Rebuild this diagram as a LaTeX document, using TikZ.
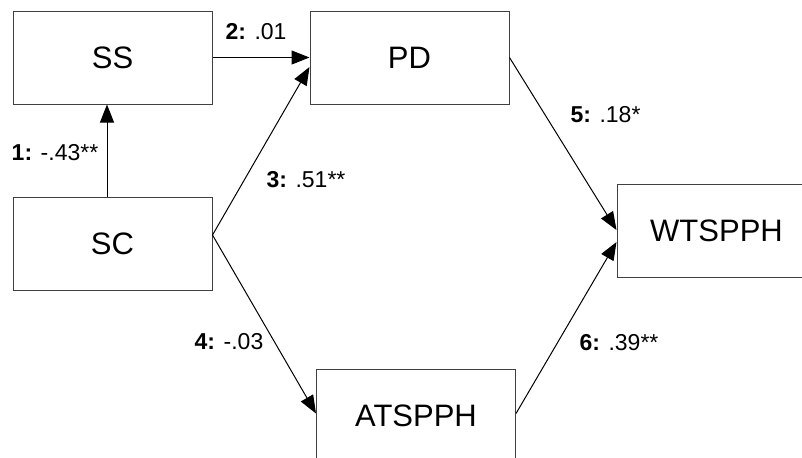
\documentclass[tikz,border=0pt]{standalone}
\usepackage{fontspec}
\setmainfont{Liberation Sans}
\usetikzlibrary{arrows.meta}

\begin{document}
\begin{tikzpicture}[x=0.5pt, y=-0.5pt,
  box/.style={draw=black!75, line width=0.5pt, minimum width=99.5pt, minimum height=46.5pt, inner sep=0pt, font=\fontsize{15.5}{18}\selectfont},
  link/.style={line width=0.5pt, -{Triangle[length=9pt,width=7pt]}},
  lbl/.style={font=\fontsize{11.5}{14}\selectfont, inner sep=0pt}]

\useasboundingbox (0,0) rectangle (802,457);

% variables
\node[box] (SS) at (112.5,57.5) {SS};
\node[box] (PD) at (409.5,57.5) {PD};
\node[box] (SC) at (112.5,244) {SC};
\node[box] (WTSPPH) at (716.5,231) {WTSPPH};
\node[box] (ATSPPH) at (416,415.5) {ATSPPH};

% paths
\coordinate (SCout) at ([yshift=4.5pt]SC.east);
\draw[link] ([xshift=-2.75pt]SC.north) -- ([xshift=-2.75pt]SS.south);
\draw[link] (SS.east) -- (PD.west);
\draw[link] (SCout) -- ([yshift=-4.75pt]PD.west);
\draw[link] (SCout) -- ([yshift=1pt]ATSPPH.west);
\draw[link] (PD.east) -- ([yshift=0.5pt]WTSPPH.west);
\draw[link] ([yshift=1pt]ATSPPH.east) -- ([yshift=-5.5pt]WTSPPH.west);

% coefficients
\node[lbl] (p1) at (55,153) {\textbf{1:} -.43**};
\node[lbl] (p2) at (256,32) {\textbf{2:} .01};
\node[lbl] (p3) at (306,180) {\textbf{3:} .51**};
\node[lbl] (p4) at (229,342) {\textbf{4:} -.03};
\node[lbl] (p5) at (605.5,115) {\textbf{5:} .18*};
\node[lbl] (p6) at (619,343) {\textbf{6:} .39**};

\end{tikzpicture}
\end{document}
